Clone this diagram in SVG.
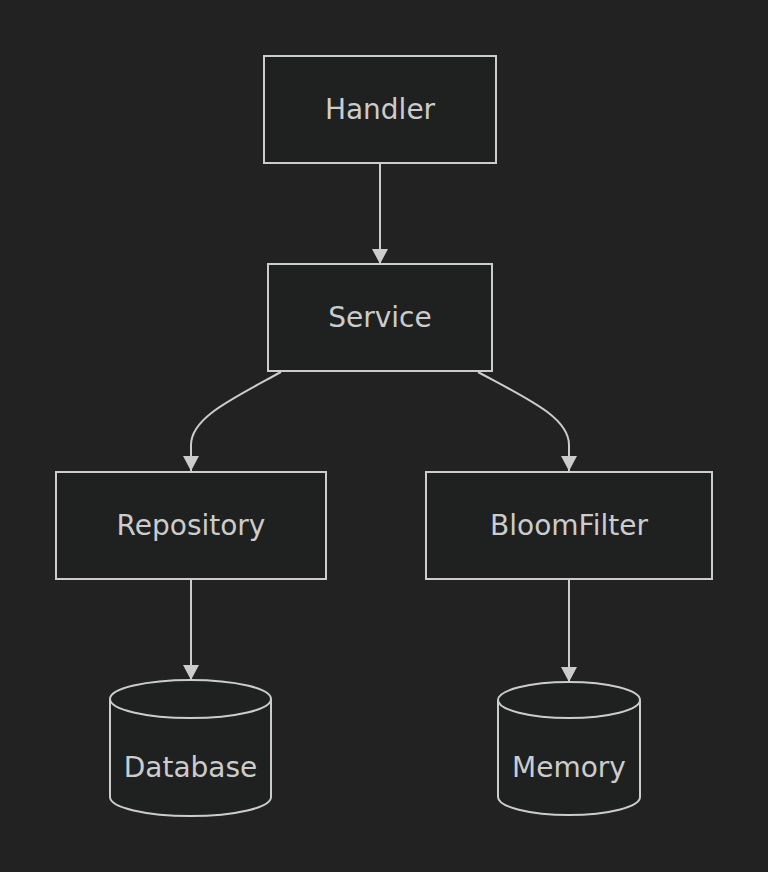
<svg xmlns="http://www.w3.org/2000/svg" width="768" height="872" viewBox="0 0 768 872">
<style>
.node rect,.node path{fill:#1f2020;stroke:#cccccc;stroke-width:2}
.lbl{font-family:"DejaVu Sans",sans-serif;font-size:28px;fill:#cccccc;text-anchor:middle}
.edge{fill:none;stroke:#cccccc;stroke-width:2}
</style>
<defs>
<marker id="arr" markerWidth="16" markerHeight="16" refX="15" refY="8" orient="auto" markerUnits="userSpaceOnUse" viewBox="0 0 16 16">
<path d="M0,0 L15,8 L0,16 Z" fill="#cccccc"/>
</marker>
</defs>
<rect width="768" height="872" fill="#222222"/>
<g id="edges">
<path class="edge" d="M380,164 L380,264" marker-end="url(#arr)"/>
<path class="edge" d="M281,372 C230,400 191,418 191,445 L191,471" marker-end="url(#arr)"/>
<path class="edge" d="M478,372 C530,400 569,418 569,445 L569,471" marker-end="url(#arr)"/>
<path class="edge" d="M191,580 L191,680" marker-end="url(#arr)"/>
<path class="edge" d="M569,580 L569,682" marker-end="url(#arr)"/>
</g>
<g id="handler" class="node"><rect x="264" y="56" width="232" height="107"/><text class="lbl" x="380" y="119">Handler</text></g>
<g id="service" class="node"><rect x="268" y="264" width="224" height="107"/><text class="lbl" x="380" y="327">Service</text></g>
<g id="repository" class="node"><rect x="56" y="472" width="270" height="107"/><text class="lbl" x="191" y="535">Repository</text></g>
<g id="bloomfilter" class="node"><rect x="426" y="472" width="286" height="107"/><text class="lbl" x="569" y="535">BloomFilter</text></g>
<g id="database" class="node"><path d="M110,699 A80.5,19 0 0 1 271,699 L271,797 A80.5,19 0 0 1 110,797 Z"/><path d="M110,699 A80.5,19 0 0 0 271,699" fill="none"/><text class="lbl" x="190.5" y="777">Database</text></g>
<g id="memory" class="node"><path d="M498,700 A71,18 0 0 1 640,700 L640,797 A71,18 0 0 1 498,797 Z"/><path d="M498,700 A71,18 0 0 0 640,700" fill="none"/><text class="lbl" x="569" y="777">Memory</text></g>
</svg>
